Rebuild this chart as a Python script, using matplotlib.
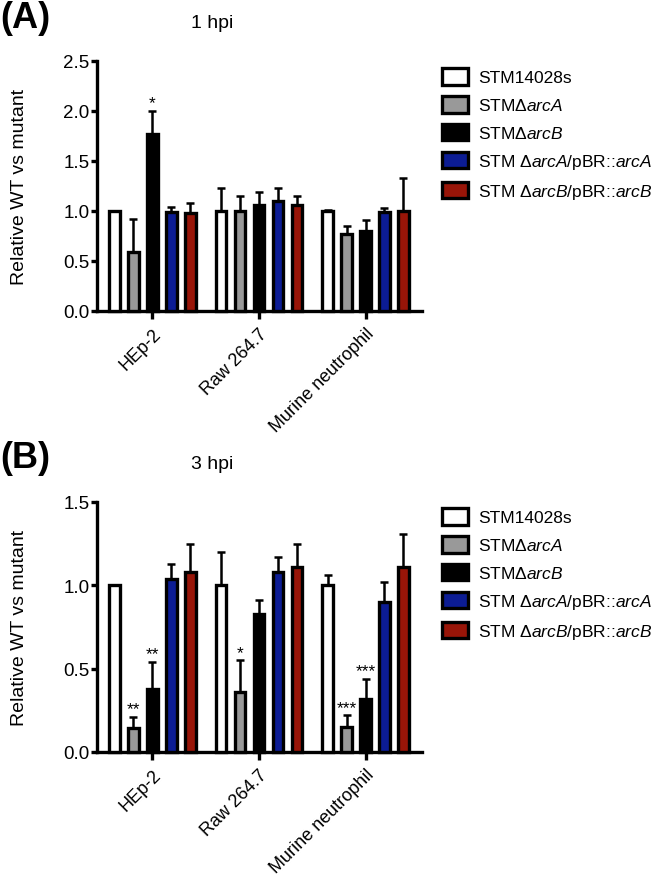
import matplotlib
matplotlib.use("Agg")
import matplotlib.pyplot as plt
from matplotlib.patches import Patch
import matplotlib.transforms as mtransforms
import numpy as np

plt.rcParams['font.family'] = ['Liberation Sans', 'DejaVu Sans']
plt.rcParams['mathtext.fontset'] = 'custom'
plt.rcParams['mathtext.rm'] = 'Liberation Sans'
plt.rcParams['mathtext.it'] = 'Liberation Sans:italic'

groups = ["HEp-2", "Raw 264.7", "Murine neutrophil"]
strains = ["STM14028s", "STM\u0394$\\mathit{arcA}$", "STM\u0394$\\mathit{arcB}$",
           "STM $\\mathit{\u0394arcA}$/pBR::$\\mathit{arcA}$",
           "STM $\\mathit{\u0394arcB}$/pBR::$\\mathit{arcB}$"]
colors = ["#ffffff", "#999999", "#000000", "#0c1c94", "#981508"]

# 1 hpi: mean per strain for each group, and top of error bar
a_mean = [[1.00, 1.00, 1.00],
          [0.59, 1.00, 0.77],
          [1.77, 1.06, 0.80],
          [0.99, 1.10, 0.99],
          [0.98, 1.06, 1.00]]
a_top = [[1.00, 1.23, 1.01],
         [0.92, 1.15, 0.85],
         [2.00, 1.19, 0.91],
         [1.04, 1.23, 1.03],
         [1.08, 1.15, 1.33]]
a_stars = [[None, None, None], [None, None, None], ["*", None, None],
           [None, None, None], [None, None, None]]

# 3 hpi
b_mean = [[1.00, 1.00, 1.00],
          [0.145, 0.36, 0.15],
          [0.38, 0.83, 0.32],
          [1.04, 1.08, 0.90],
          [1.08, 1.11, 1.11]]
b_top = [[1.00, 1.20, 1.06],
         [0.21, 0.55, 0.22],
         [0.54, 0.91, 0.44],
         [1.13, 1.17, 1.02],
         [1.25, 1.25, 1.31]]
b_stars = [[None, None, None], ["**", "*", "***"], ["**", None, "***"],
           [None, None, None], [None, None, None]]

W, H = 652, 879
fig = plt.figure(figsize=(W / 100, H / 100), dpi=100)

def px_axes(l, t, r, b):
    return fig.add_axes([l / W, 1 - b / H, (r - l) / W, (b - t) / H])

pitch = 0.178
bw = 0.10
lw = 2.4

def panel(ax, means, tops, stars, ymax, yticks):
    x = np.arange(len(groups))
    for i in range(len(strains)):
        xs = x + (i - 2) * pitch
        m = np.array(means[i])
        t = np.array(tops[i])
        ax.bar(xs, m, width=bw, color=colors[i], edgecolor="black",
               linewidth=lw, zorder=3, clip_on=False)
        err = t - m
        ax.errorbar(xs, t, yerr=[err, np.zeros_like(err)],
                    fmt="none", ecolor="black", elinewidth=1.8, capsize=3.2,
                    capthick=1.8, zorder=2, clip_on=False)
        for j in range(len(groups)):
            if stars[i][j]:
                ax.annotate(stars[i][j], (xs[j], t[j]), xytext=(0, 2.5),
                            textcoords="offset points", ha="center",
                            va="baseline", fontsize=12.5)
    ax.set_xlim(-0.52, 2.53)
    ax.set_ylim(0, ymax)
    ax.set_yticks(yticks)
    ax.set_yticklabels([f"{v:.1f}" for v in yticks], fontsize=13.5)
    ax.set_xticks(x)
    ax.set_xticklabels(groups, rotation=45, ha="right", va="top",
                       rotation_mode="anchor", fontsize=13)
    shift = mtransforms.ScaledTranslation(4 / 72, 0, fig.dpi_scale_trans)
    for lab in ax.get_xticklabels():
        lab.set_transform(lab.get_transform() + shift)
    for s in ["top", "right"]:
        ax.spines[s].set_visible(False)
    for s in ["left", "bottom"]:
        ax.spines[s].set_linewidth(2.4)
    ax.tick_params(axis="y", width=2.4, length=4.5, pad=1)
    ax.tick_params(axis="x", width=2.4, length=6, pad=4)
    ax.set_ylabel("Relative WT vs mutant", fontsize=14)
    ax.yaxis.set_label_coords(-0.212, 0.5)

axA = px_axes(97, 62, 422, 312)
panel(axA, a_mean, a_top, a_stars, 2.5, [0.0, 0.5, 1.0, 1.5, 2.0, 2.5])
axB = px_axes(97, 503, 422, 753)
panel(axB, b_mean, b_top, b_stars, 1.5, [0.0, 0.5, 1.0, 1.5])

fig.text(212 / W, 1 - 23 / H, "1 hpi", ha="center", va="center", fontsize=14)
fig.text(212 / W, 1 - 465 / H, "3 hpi", ha="center", va="center", fontsize=14)
fig.text(0, 1 - 19 / H, "(A)", ha="left", va="center", fontsize=26,
         fontweight="bold")
fig.text(0, 1 - 459 / H, "(B)", ha="left", va="center", fontsize=26,
         fontweight="bold")

handles = [Patch(facecolor=c, edgecolor="black", linewidth=2.4) for c in colors]
for top in [69, 509]:
    fig.legend(handles, strains, loc="upper left",
               bbox_to_anchor=(442 / W, 1 - top / H), frameon=False,
               fontsize=12.5, handlelength=1.5, handleheight=1.1,
               labelspacing=0.615, handletextpad=0.6, borderpad=0,
               borderaxespad=0)

fig.savefig("out.png", dpi=100)
